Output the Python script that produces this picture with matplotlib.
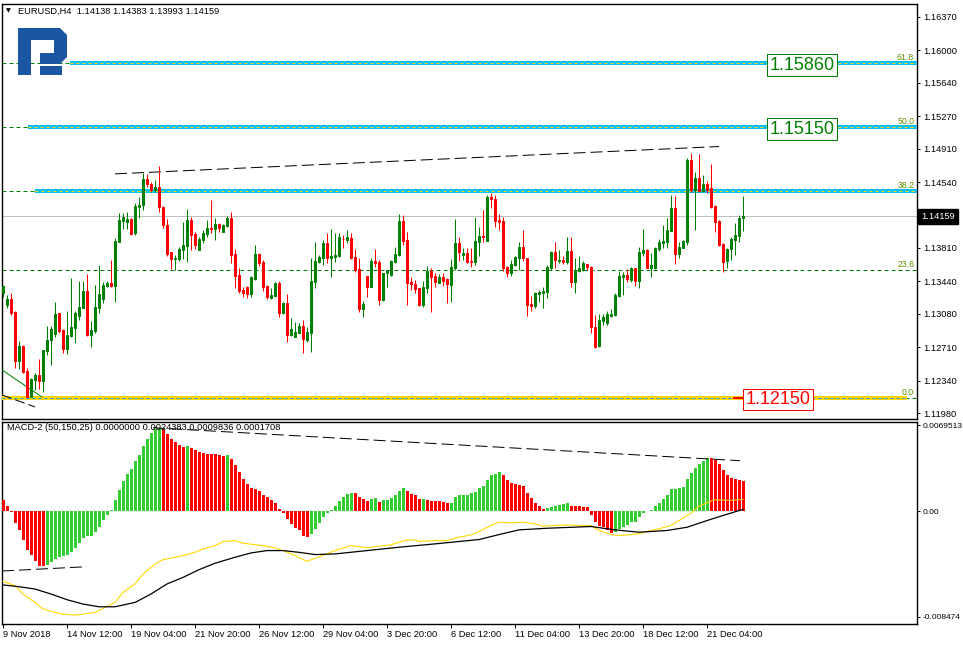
import matplotlib
matplotlib.use('Agg')
import matplotlib.pyplot as plt
import matplotlib.transforms as mtrans
from matplotlib.patches import Polygon
import numpy as np

plt.rcParams['font.family'] = ['Liberation Sans', 'DejaVu Sans']
plt.rcParams['lines.scale_dashes'] = False

# ---------------- DATA ----------------
symbol_title = "EURUSD,H4  1.14138 1.14383 1.13993 1.14159"
macd_title = "MACD-2 (50,150,25) 0.0000000 0.0024383 0.0009836 0.0001708"

opens = [1.13313, 1.13177, 1.13243, 1.13100, 1.12559, 1.12722, 1.12449, 1.12161, 1.12346, 1.12401,
         1.12338, 1.12667, 1.12789, 1.12856, 1.13089, 1.12900, 1.12689, 1.12834, 1.12926, 1.13058,
         1.13147, 1.13332, 1.12845, 1.12892, 1.13147, 1.13247, 1.13390, 1.13424, 1.13390, 1.13879,
         1.14111, 1.14100, 1.14127, 1.13972, 1.14267, 1.14286, 1.14574, 1.14519, 1.14452, 1.14482,
         1.14267, 1.14064, 1.13765, 1.13690, 1.13687, 1.13787, 1.13834, 1.14119, 1.13964, 1.13787,
         1.13898, 1.13964, 1.14030, 1.14019, 1.14075, 1.13990, 1.14056, 1.14145, 1.13743, 1.13510,
         1.13343, 1.13379, 1.13299, 1.13466, 1.13743, 1.13654, 1.13387, 1.13251, 1.13277, 1.13417,
         1.13092, 1.13196, 1.12845, 1.12826, 1.12870, 1.12944, 1.12789, 1.12870, 1.13436, 1.13657,
         1.13701, 1.13868, 1.13701, 1.13712, 1.13720, 1.13912, 1.13898, 1.13924, 1.13712, 1.13573,
         1.13133, 1.13499, 1.13379, 1.13665, 1.13654, 1.13233, 1.13528, 1.13510, 1.13657, 1.13732,
         1.14108, 1.13898, 1.13436, 1.13410, 1.13369, 1.13177, 1.13369, 1.13554, 1.13499, 1.13424,
         1.13484, 1.13462, 1.13398, 1.13590, 1.13868, 1.13732, 1.13757, 1.13668, 1.13657, 1.13879,
         1.13942, 1.13890, 1.14371, 1.14349, 1.14119, 1.14108, 1.13595, 1.13535, 1.13621, 1.13701,
         1.13817, 1.13695, 1.13189, 1.13166, 1.13299, 1.13313, 1.13324, 1.13590, 1.13768, 1.13665,
         1.13676, 1.13657, 1.13776, 1.13436, 1.13557, 1.13565, 1.13632, 1.13602, 1.12937, 1.12722,
         1.13003, 1.12981, 1.13056, 1.13067, 1.13277, 1.13491, 1.13510, 1.13454, 1.13584, 1.13446,
         1.13750, 1.13784, 1.13590, 1.13590, 1.13798, 1.13868, 1.13879, 1.14001, 1.14256, 1.13739,
         1.13813, 1.13879, 1.14785, 1.14452, 1.14582, 1.14441, 1.14515, 1.14471, 1.14274, 1.14108,
         1.13853, 1.13665, 1.13795, 1.13898, 1.13945, 1.14138]
highs = [1.13398, 1.13288, 1.13310, 1.13111, 1.12778, 1.12733, 1.12479, 1.12368, 1.12427, 1.12578,
         1.12681, 1.12944, 1.12944, 1.13211, 1.13092, 1.12906, 1.13111, 1.13476, 1.13111, 1.13443,
         1.13443, 1.13521, 1.13000, 1.13398, 1.13621, 1.13432, 1.13443, 1.13676, 1.13920, 1.14200,
         1.14200, 1.14208, 1.14138, 1.14304, 1.14378, 1.14644, 1.14630, 1.14544, 1.14563, 1.14718,
         1.14274, 1.14127, 1.13765, 1.13732, 1.13824, 1.14097, 1.14241, 1.14156, 1.13983, 1.13928,
         1.14009, 1.14119, 1.14341, 1.14138, 1.14089, 1.14075, 1.14163, 1.14208, 1.13798, 1.13584,
         1.13379, 1.13387, 1.13499, 1.13842, 1.13757, 1.13676, 1.13398, 1.13362, 1.13435, 1.13443,
         1.13214, 1.13299, 1.13036, 1.12992, 1.12974, 1.13011, 1.12937, 1.13695, 1.13879, 1.13732,
         1.13898, 1.13979, 1.14016, 1.13972, 1.13972, 1.13953, 1.14009, 1.13979, 1.13795, 1.13695,
         1.13222, 1.13499, 1.13695, 1.13798, 1.13676, 1.13535, 1.13565, 1.13676, 1.13823, 1.14186,
         1.14175, 1.13990, 1.13484, 1.13454, 1.13369, 1.13443, 1.13610, 1.13584, 1.13535, 1.13521,
         1.13528, 1.13476, 1.13687, 1.14130, 1.13928, 1.13813, 1.13813, 1.13813, 1.14156, 1.14045,
         1.14230, 1.14397, 1.14422, 1.14397, 1.14182, 1.14152, 1.13610, 1.13676, 1.13720, 1.13879,
         1.14009, 1.13701, 1.13277, 1.13324, 1.13343, 1.13379, 1.13621, 1.13779, 1.13879, 1.13787,
         1.13720, 1.13934, 1.13934, 1.13695, 1.13720, 1.13665, 1.13632, 1.13610, 1.13067, 1.13078,
         1.13078, 1.13111, 1.13133, 1.13313, 1.13554, 1.13546, 1.13573, 1.13602, 1.13590, 1.13824,
         1.14019, 1.13798, 1.13757, 1.13823, 1.13909, 1.14064, 1.14145, 1.14397, 1.14389, 1.13879,
         1.13898, 1.14804, 1.14859, 1.14648, 1.14848, 1.14619, 1.14552, 1.14741, 1.14286, 1.14119,
         1.13861, 1.13813, 1.13934, 1.14082, 1.14175, 1.14383]
lows = [1.13269, 1.13144, 1.13067, 1.12479, 1.12468, 1.12424, 1.12157, 1.12154, 1.12235, 1.12246,
        1.12216, 1.12622, 1.12512, 1.12826, 1.12867, 1.12648, 1.12634, 1.12826, 1.12759, 1.13011,
        1.13141, 1.12839, 1.12714, 1.12867, 1.13089, 1.13200, 1.13379, 1.13379, 1.13214, 1.13876,
        1.14023, 1.14023, 1.13950, 1.13950, 1.14145, 1.14230, 1.14485, 1.14426, 1.14433, 1.14211,
        1.14034, 1.13720, 1.13573, 1.13565, 1.13665, 1.13683, 1.13657, 1.13787, 1.13798, 1.13787,
        1.13861, 1.13934, 1.13979, 1.13898, 1.13990, 1.13983, 1.14045, 1.13646, 1.13369, 1.13306,
        1.13269, 1.13258, 1.13269, 1.13454, 1.13610, 1.13332, 1.13240, 1.13243, 1.13269, 1.13048,
        1.13078, 1.12771, 1.12834, 1.12819, 1.12863, 1.12648, 1.12771, 1.12659, 1.13369, 1.13639,
        1.13621, 1.13646, 1.13484, 1.13657, 1.13704, 1.13806, 1.13861, 1.13683, 1.13546, 1.13103,
        1.13048, 1.13269, 1.13373, 1.13602, 1.13177, 1.13222, 1.13379, 1.13499, 1.13646, 1.13720,
        1.13842, 1.13177, 1.13343, 1.13313, 1.13166, 1.13158, 1.13306, 1.13103, 1.13379, 1.13417,
        1.13387, 1.13202, 1.13214, 1.13565, 1.13665, 1.13676, 1.13646, 1.13602, 1.13621, 1.13720,
        1.13879, 1.13890, 1.14249, 1.14045, 1.14009, 1.13557, 1.13491, 1.13502, 1.13610, 1.13565,
        1.13668, 1.13058, 1.13114, 1.13147, 1.13214, 1.13147, 1.13251, 1.13565, 1.13584, 1.13639,
        1.13632, 1.13632, 1.13379, 1.13306, 1.13546, 1.13554, 1.13565, 1.12863, 1.12697, 1.12708,
        1.12956, 1.12956, 1.13048, 1.13058, 1.13269, 1.13288, 1.13436, 1.13429, 1.13390, 1.13362,
        1.13724, 1.13584, 1.13491, 1.13576, 1.13776, 1.13806, 1.13813, 1.13998, 1.13632, 1.13695,
        1.13806, 1.13842, 1.14433, 1.14009, 1.14426, 1.14433, 1.14415, 1.14249, 1.13990, 1.13831,
        1.13546, 1.13584, 1.13676, 1.13732, 1.13879, 1.13993]
closes = [1.13387, 1.13243, 1.13089, 1.12559, 1.12722, 1.12438, 1.12161, 1.12357, 1.12401, 1.12338,
          1.12678, 1.12789, 1.12914, 1.13078, 1.12892, 1.12689, 1.12845, 1.12937, 1.13092, 1.13158,
          1.13332, 1.12845, 1.12900, 1.13158, 1.13299, 1.13398, 1.13424, 1.13390, 1.13890, 1.14119,
          1.14152, 1.14127, 1.13964, 1.14274, 1.14286, 1.14571, 1.14524, 1.14452, 1.14482, 1.14267,
          1.14064, 1.13743, 1.13687, 1.13694, 1.13795, 1.13842, 1.14119, 1.13953, 1.13842, 1.13909,
          1.13979, 1.14034, 1.14023, 1.14075, 1.14034, 1.14064, 1.14145, 1.13732, 1.13499, 1.13332,
          1.13306, 1.13299, 1.13484, 1.13743, 1.13646, 1.13379, 1.13269, 1.13288, 1.13417, 1.13092,
          1.13196, 1.12845, 1.12908, 1.12881, 1.12944, 1.12800, 1.12874, 1.13443, 1.13665, 1.13712,
          1.13868, 1.13701, 1.13720, 1.13732, 1.13934, 1.13905, 1.13928, 1.13694, 1.13565, 1.13133,
          1.13189, 1.13379, 1.13665, 1.13646, 1.13233, 1.13528, 1.13565, 1.13665, 1.13743, 1.14108,
          1.13887, 1.13424, 1.13410, 1.13354, 1.13177, 1.13379, 1.13554, 1.13491, 1.13436, 1.13484,
          1.13443, 1.13406, 1.13595, 1.13868, 1.13768, 1.13757, 1.13657, 1.13657, 1.13887, 1.13942,
          1.13928, 1.14371, 1.14349, 1.14111, 1.14100, 1.13584, 1.13535, 1.13632, 1.13706, 1.13817,
          1.13695, 1.13177, 1.13166, 1.13306, 1.13321, 1.13332, 1.13595, 1.13768, 1.13676, 1.13676,
          1.13657, 1.13776, 1.13436, 1.13565, 1.13584, 1.13639, 1.13595, 1.12937, 1.12715, 1.13011,
          1.13048, 1.13074, 1.13078, 1.13288, 1.13499, 1.13510, 1.13466, 1.13584, 1.13446, 1.13768,
          1.13787, 1.13590, 1.13621, 1.13812, 1.13879, 1.13887, 1.14009, 1.14256, 1.13743, 1.13824,
          1.13887, 1.14785, 1.14452, 1.14582, 1.14441, 1.14515, 1.14452, 1.14267, 1.14100, 1.13842,
          1.13657, 1.13798, 1.13905, 1.13953, 1.14145, 1.14159]

# MACD-2 histogram (one value per bar)
macd_hist = [0.00089, 0.00043, -0.00005, -0.00094, -0.00153, -0.00226, -0.00307, -0.00350, -0.00401, -0.00436,
             -0.00442, -0.00428, -0.00409, -0.00382, -0.00369, -0.00355, -0.00350, -0.00329, -0.00294, -0.00256,
             -0.00210, -0.00199, -0.00194, -0.00162, -0.00121, -0.00067, -0.00032, 0.00016, 0.00089, 0.00170,
             0.00242, 0.00299, 0.00345, 0.00407, 0.00458, 0.00525, 0.00582, 0.00636, 0.00668, 0.00673,
             0.00654, 0.00627, 0.00587, 0.00560, 0.00533, 0.00520, 0.00528, 0.00514, 0.00498, 0.00479,
             0.00471, 0.00466, 0.00464, 0.00460, 0.00458, 0.00447, 0.00452, 0.00425, 0.00372, 0.00318,
             0.00264, 0.00218, 0.00189, 0.00178, 0.00167, 0.00137, 0.00116, 0.00089, 0.00067, 0.00022,
             -0.00013, -0.00059, -0.00100, -0.00135, -0.00153, -0.00194, -0.00207, -0.00180, -0.00140, -0.00092,
             -0.00046, -0.00013, 0.00016, 0.00043, 0.00081, 0.00116, 0.00143, 0.00151, 0.00149, 0.00116,
             0.00097, 0.00083, 0.00102, 0.00105, 0.00075, 0.00089, 0.00092, 0.00108, 0.00129, 0.00162,
             0.00189, 0.00164, 0.00143, 0.00129, 0.00097, 0.00100, 0.00089, 0.00087, 0.00083, 0.00081,
             0.00075, 0.00067, 0.00070, 0.00116, 0.00129, 0.00135, 0.00137, 0.00148, 0.00156, 0.00189,
             0.00205, 0.00250, 0.00291, 0.00304, 0.00318, 0.00291, 0.00256, 0.00229, 0.00218, 0.00215,
             0.00205, 0.00151, 0.00108, 0.00070, 0.00048, 0.00022, 0.00027, 0.00040, 0.00048, 0.00054,
             0.00057, 0.00065, 0.00043, 0.00042, 0.00041, 0.00040, 0.00038, -0.00027, -0.00081, -0.00113,
             -0.00127, -0.00148, -0.00170, -0.00167, -0.00140, -0.00121, -0.00108, -0.00086, -0.00081, -0.00046,
             -0.00011, 0.00008, 0.00016, 0.00048, 0.00070, 0.00102, 0.00129, 0.00178, 0.00181, 0.00189,
             0.00197, 0.00264, 0.00310, 0.00353, 0.00380, 0.00407, 0.00431, 0.00429, 0.00417, 0.00380,
             0.00337, 0.00296, 0.00269, 0.00258, 0.00250, 0.00244]

# signal (yellow) line, read at bar indices
signal_bars = [0, 3, 5, 8, 10, 13, 15, 18, 20, 23, 25, 28, 30, 33, 35, 38, 40, 43, 45, 48, 50, 53, 55, 58,
               60, 63, 65, 68, 70, 73, 75, 76, 78, 81, 83, 87, 89, 91, 93, 97, 99, 101, 103, 104, 108, 111,
               114, 117, 119, 122, 124, 127, 130, 133, 135, 138, 141, 144, 147, 149, 152, 154, 157, 159,
               162, 164, 167, 169, 172, 174, 177, 178, 182, 185]
signal_vals = [-0.00563, -0.00598, -0.00665, -0.00733, -0.00786, -0.00813, -0.00827, -0.00835, -0.00827, -0.00813,
               -0.00781, -0.00733, -0.00652, -0.00584, -0.00504, -0.00423, -0.00388, -0.00369, -0.00355, -0.00329,
               -0.00302, -0.00275, -0.00242, -0.00234, -0.00256, -0.00267, -0.00275, -0.00294, -0.00315, -0.00355,
               -0.00388, -0.00401, -0.00377, -0.00342, -0.00315, -0.00275, -0.00283, -0.00294, -0.00283, -0.00269,
               -0.00248, -0.00229, -0.00229, -0.00242, -0.00234, -0.00234, -0.00207, -0.00189, -0.00162, -0.00113,
               -0.00086, -0.00092, -0.00086, -0.00100, -0.00118, -0.00113, -0.00108, -0.00113, -0.00113, -0.00153,
               -0.00186, -0.00194, -0.00186, -0.00180, -0.00153, -0.00140, -0.00113, -0.00073, -0.00013, 0.00043,
               0.00083, 0.00094, 0.00089, 0.00098]

# main (black) line, read at bar indices
main_bars = [0, 4, 8, 12, 16, 20, 24, 28, 33, 37, 41, 45, 49, 53, 58, 62, 66, 70, 74, 78, 83, 91, 99, 108,
             119, 124, 129, 136, 147, 153, 159, 166, 171, 176, 180, 185]
main_vals = [-0.00592, -0.00606, -0.00625, -0.00665, -0.00711, -0.00746, -0.00768, -0.00768, -0.00733, -0.00665,
             -0.00584, -0.00531, -0.00469, -0.00417, -0.00369, -0.00334, -0.00315, -0.00315, -0.00329, -0.00347,
             -0.00342, -0.00315, -0.00288, -0.00261, -0.00226, -0.00186, -0.00148, -0.00135, -0.00121, -0.00148,
             -0.00167, -0.00153, -0.00127, -0.00073, -0.00032, 0.00017]

time_labels = ["9 Nov 2018", "14 Nov 12:00", "19 Nov 04:00", "21 Nov 20:00", "26 Nov 12:00",
               "29 Nov 04:00", "3 Dec 20:00", "6 Dec 12:00", "11 Dec 04:00", "13 Dec 20:00",
               "18 Dec 12:00", "21 Dec 04:00"]
time_label_bars = [0, 16, 32, 48, 64, 80, 96, 112, 128, 144, 160, 176]

price_ticks = [1.16370, 1.16000, 1.15640, 1.15270, 1.14910, 1.14540,
               1.13810, 1.13440, 1.13080, 1.12710, 1.12340, 1.11980]
last_price = 1.14159
macd_ticks = [0.0069513, 0.0, -0.008474]
macd_tick_labels = ["0.0069513", "0.00", "-0.008474"]

fib_low, fib_high = 1.12150, 1.18150
fib_ratios = [0.0, 0.236, 0.382, 0.5, 0.618]
fib_names = ["0.0", "23.6", "38.2", "50.0", "61.8"]
level_boxes = [1.15860, 1.15150, 1.12150]

# drawn objects (bar index, price)
trend_main = ([28, 179], [1.14631, 1.14934])
trend_green = ([-0.25, 9.75], [1.12457, 1.12157])
trend_black_small = ([-0.25, 8.0], [1.12180, 1.12047])
macd_trend_upper = ([37.5, 184.25], [0.006754, 0.004094])
macd_trend_lower = ([-0.25, 21.0], [-0.004796, -0.004449])

# ---------------- FIGURE ----------------
W, H = 963, 645
fig = plt.figure(figsize=(W / 100, H / 100), dpi=100)
fig.patch.set_facecolor('white')


def fx(px):
    return px / W


def fy(py):
    return 1 - py / H


ax = fig.add_axes([fx(2), fy(419), fx(917) - fx(2), fy(4) - fy(419)])
ax2 = fig.add_axes([fx(2), fy(624), fx(917) - fx(2), fy(422) - fy(624)])

XMIN, XMAX = -0.25, 228.5
PX = 0.72  # one pixel in points

for a in (ax, ax2):
    a.set_xlim(XMIN, XMAX)
    for s in a.spines.values():
        s.set_linewidth(1.0)
        s.set_color('black')
    a.set_facecolor('white')

ax.set_ylim(1.119135, 1.16514)
ax2.set_ylim(-0.009068, 0.007214)

o = np.array(opens)
h = np.array(highs)
l = np.array(lows)
c = np.array(closes)
xb = np.arange(len(o))
cols = np.where(c >= o, '#008000', '#ff0000')

# ---- Fibonacci levels ----
levels = fib_low + (fib_high - fib_low) * np.array(fib_ratios)
blend = mtrans.blended_transform_factory(ax.transAxes, ax.transData)
for lev in levels:
    ax.hlines(lev, XMIN, XMAX, colors='#008000', lw=1 * PX, linestyles=(0, (4 * PX, 3 * PX)), zorder=2)

band_start = {0.382: 8.0, 0.5: 6.25, 0.618: 16.75}
for r, lev in zip(fib_ratios, levels):
    if r in band_start:
        ax.hlines(lev, band_start[r], XMAX, colors='#00bfff', lw=4 * PX, zorder=3)
        ax.hlines(lev, band_start[r], XMAX, colors='#ffd700', lw=1 * PX,
                  linestyles=(0, (3 * PX, 3 * PX)), zorder=3.5)
    if r == 0.0:
        ax.hlines(lev, XMIN, 226.0, colors='#ffd700', lw=4 * PX, zorder=3)
        ax.hlines(lev, XMIN, 226.0, colors='#1e90ff', lw=1 * PX,
                  linestyles=(0, (3 * PX, 3 * PX)), zorder=3.5)
        ax.hlines(lev, 182.5, 185.0, colors='#ff0000', lw=2 * PX, zorder=3.6)

for name, lev in zip(fib_names, levels):
    ax.annotate(name, xy=(1.0, lev), xycoords=blend, xytext=(-2, 0.5), textcoords='offset points',
                ha='right', va='bottom', fontsize=6.3, color='#5f8f00', zorder=8)

# current price line
ax.hlines(last_price, XMIN, XMAX, colors='#c0c0c0', lw=1 * PX, zorder=2.5)

# trend lines
ax.plot(*trend_main, color='black', lw=1 * PX, linestyle=(0, (12 * PX, 5 * PX)), zorder=4)
ax.plot(*trend_green, color='#008000', lw=1 * PX, zorder=4)
ax.plot(*trend_black_small, color='black', lw=1 * PX, linestyle=(0, (10 * PX, 4 * PX)), zorder=4)

# candles
ax.vlines(xb, l, h, colors=cols, lw=1 * PX, zorder=5)
body = c - o
body = np.where(np.abs(body) < 1e-6, 1e-6, body)
ax.bar(xb, body, bottom=o, width=0.5, color=cols, edgecolor=cols, lw=1 * PX, zorder=6)

# level boxes
box_specs = [(level_boxes[0], 199.75, '#008000'), (level_boxes[1], 199.75, '#008000'),
             (level_boxes[2], 193.75, '#ff0000')]
for val, xpos, colr in box_specs:
    ax.annotate(f"{val:.5f}", xy=(xpos, val), xytext=(0, -1.5), textcoords='offset points',
                ha='center', va='center', fontsize=13, color=colr, zorder=9,
                bbox=dict(boxstyle='square,pad=0.12', fc='white', ec=colr, lw=1 * PX))

# price axis
ax.set_xticks([])
ax.yaxis.tick_right()
ax.set_yticks(price_ticks)
ax.set_yticklabels([f"{t:.5f}" for t in price_ticks])
ax.tick_params(axis='y', direction='out', length=3 * PX, width=1 * PX, pad=3 * PX,
               labelsize=6.7, colors='black')
ax.annotate(f"{last_price:.5f}", xy=(1.0, last_price), xycoords=blend, xytext=(3.0, 0),
            textcoords='offset points', ha='left', va='center', fontsize=6.7, color='white',
            annotation_clip=False, zorder=10,
            bbox=dict(boxstyle='square,pad=0.3', fc='black', ec='black'))

# ---- MACD panel ----
hist = np.array(macd_hist)
prev = np.concatenate([[np.inf], hist[:-1]])
hcols = np.where(hist > prev, '#32cd32', '#ff0000')
ax2.bar(np.arange(len(hist)), hist, width=0.75, color=hcols, lw=0, zorder=3)
ax2.plot(signal_bars, signal_vals, color='#ffd700', lw=0.8, zorder=4)
ax2.plot(main_bars, main_vals, color='black', lw=0.9, zorder=4)
ax2.plot(*macd_trend_upper, color='black', lw=1 * PX, linestyle=(0, (12 * PX, 5 * PX)), zorder=5)
ax2.plot(*macd_trend_lower, color='black', lw=1 * PX, linestyle=(0, (12 * PX, 5 * PX)), zorder=5)

ax2.yaxis.tick_right()
ax2.set_yticks(macd_ticks)
ax2.set_yticklabels(macd_tick_labels)
ax2.tick_params(axis='y', direction='out', length=3 * PX, width=1 * PX, pad=3 * PX, labelsize=6.0)
ax2.set_xticks(time_label_bars)
ax2.set_xticklabels(time_labels, ha='left')
ax2.tick_params(axis='x', direction='out', length=4 * PX, width=1 * PX, pad=1.5, labelsize=6.7)

# ---- texts ----
fig.text(fx(8), fy(11), '\u25BC', fontsize=4.5, ha='center', va='center', family='DejaVu Sans')
fig.text(fx(18), fy(11), symbol_title, fontsize=6.7, ha='left', va='center')
fig.text(fx(7), fy(428), macd_title, fontsize=6.7, ha='left', va='center', zorder=10)

# ---- logo ----
def P(pts):
    return [(fx(px), fy(py)) for px, py in pts]

logo_col = '#1a56a2'
outer = P([(18, 28), (60, 28), (67, 35), (67, 57), (60, 64), (40, 64), (40, 53), (54, 53),
           (54, 40), (31, 40), (31, 75), (18, 75)])
fig.add_artist(Polygon(outer, closed=True, transform=fig.transFigure, fc=logo_col, ec='none', zorder=20))
leg = P([(40, 66), (62, 66), (62, 75), (40, 75)])
fig.add_artist(Polygon(leg, closed=True, transform=fig.transFigure, fc=logo_col, ec='none', zorder=20))

fig.savefig('out.png', dpi=100, facecolor='white')
